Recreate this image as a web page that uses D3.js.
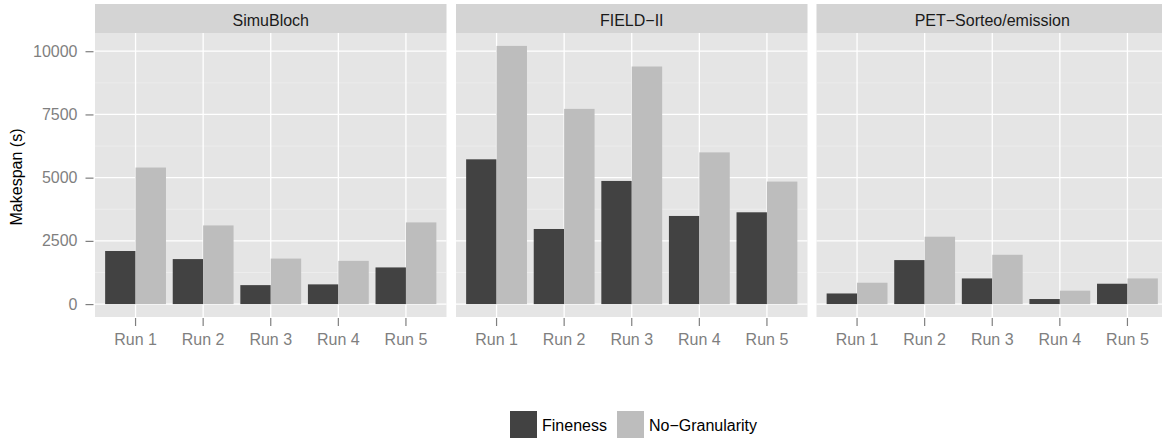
<!DOCTYPE html>
<html>
<head>
<meta charset="utf-8">
<script src="https://cdn.jsdelivr.net/npm/d3@7"></script>
<style>
  body { margin: 0; background: #fff; }
  svg { display: block; font-family: "Liberation Sans", Arial, Helvetica, sans-serif; }
</style>
</head>
<body>
<svg id="chart" width="1162" height="440"></svg>
<script>
// ---- data ----
const runs = ["Run 1", "Run 2", "Run 3", "Run 4", "Run 5"];
const panels = ["SimuBloch", "FIELD\u2212II", "PET\u2212Sorteo/emission"];
const series = ["Fineness", "No\u2212Granularity"];
const simuBlochFineness = [2100, 1780, 750, 780, 1450];
const simuBlochNoGranularity = [5400, 3110, 1800, 1710, 3230];
const fieldFineness = [5725, 2970, 4870, 3485, 3630];
const fieldNoGranularity = [10210, 7720, 9395, 6000, 4845];
const petFineness = [420, 1740, 1015, 200, 805];
const petNoGranularity = [845, 2665, 1950, 530, 1015];
const yTicks = [0, 2500, 5000, 7500, 10000];
const yMinorTicks = [1250, 3750, 6250, 8750];

const panelValues = [
  [simuBlochFineness, simuBlochNoGranularity],
  [fieldFineness, fieldNoGranularity],
  [petFineness, petNoGranularity]
];

// ---- layout ----
const svg = d3.select("#chart");
const colors = d3.scaleOrdinal().domain(series).range(["#424242", "#bdbdbd"]);
const panelW = 351.5, panelTop = 33, panelBottom = 317, stripTop = 4;
const panelLefts = [95, 456, 816.5];

const allVals = panelValues.flat(2);
const maxV = d3.max(allVals);
const y = d3.scaleLinear().domain([-0.05 * maxV, 1.05 * maxV]).range([panelBottom, panelTop]);

panels.forEach((name, pi) => {
  const left = panelLefts[pi];
  const x = d3.scaleBand().domain(runs).range([left, left + panelW]).paddingInner(0).paddingOuter(0.1);
  const bw = x.bandwidth();
  const xs = d3.scaleBand().domain(series).range([bw * 0.05, bw * 0.95]).padding(0);
  const g = svg.append("g");

  // strip
  g.append("rect").attr("x", left).attr("y", stripTop).attr("width", panelW).attr("height", panelTop - stripTop)
    .attr("fill", "#d4d4d4");
  g.append("text").attr("x", left + panelW / 2).attr("y", 26).attr("text-anchor", "middle")
    .attr("font-size", 16).attr("fill", "#1a1a1a").text(name);

  // panel background
  g.append("rect").attr("x", left).attr("y", panelTop).attr("width", panelW).attr("height", panelBottom - panelTop)
    .attr("fill", "#e5e5e5");

  // minor grid
  g.selectAll(".minor").data(yMinorTicks).join("line")
    .attr("x1", left).attr("x2", left + panelW)
    .attr("y1", d => y(d)).attr("y2", d => y(d))
    .attr("stroke", "#f2f2f2").attr("stroke-width", 0.6);
  // major grid
  g.selectAll(".major").data(yTicks).join("line")
    .attr("x1", left).attr("x2", left + panelW)
    .attr("y1", d => y(d)).attr("y2", d => y(d))
    .attr("stroke", "#ffffff").attr("stroke-width", 1.3);
  g.selectAll(".vmajor").data(runs).join("line")
    .attr("x1", d => x(d) + bw / 2).attr("x2", d => x(d) + bw / 2)
    .attr("y1", panelTop).attr("y2", panelBottom)
    .attr("stroke", "#ffffff").attr("stroke-width", 1.3);

  // bars
  series.forEach((s, si) => {
    const vals = panelValues[pi][si];
    g.selectAll(".bar" + si).data(runs).join("rect")
      .attr("x", (d) => x(d) + xs(s))
      .attr("width", xs.bandwidth())
      .attr("y", (d, i) => y(vals[i]))
      .attr("height", (d, i) => y(0) - y(vals[i]))
      .attr("fill", colors(s));
  });

  // x axis
  const xAxis = d3.axisBottom(x).tickSize(8).tickPadding(8);
  const ax = svg.append("g").attr("transform", `translate(0,${panelBottom + 1})`).call(xAxis);
  ax.select(".domain").remove();
  ax.selectAll(".tick line").attr("stroke", "#7f7f7f").attr("stroke-width", 1.2);
  ax.selectAll(".tick text").attr("font-size", 16).attr("fill", "#7f7f7f")
    .attr("font-family", "Liberation Sans, Arial, sans-serif");
});

// y axis
const yAxis = d3.axisLeft(y).tickValues(yTicks).tickFormat(d3.format("d")).tickSize(8).tickPadding(8);
const ay = svg.append("g").attr("transform", `translate(93.5,0)`).call(yAxis);
ay.select(".domain").remove();
ay.selectAll(".tick line").attr("stroke", "#7f7f7f").attr("stroke-width", 1.2);
ay.selectAll(".tick text").attr("font-size", 16).attr("fill", "#7f7f7f")
  .attr("font-family", "Liberation Sans, Arial, sans-serif");

svg.append("text").attr("transform", "translate(22,177) rotate(-90)")
  .attr("text-anchor", "middle").attr("font-size", 16).attr("fill", "#000").text("Makespan (s)");

// legend
const legendKeyX = [510, 617];
const legend = svg.append("g");
series.forEach((s, i) => {
  legend.append("rect").attr("x", legendKeyX[i]).attr("y", 411).attr("width", 27).attr("height", 27)
    .attr("fill", colors(s));
  legend.append("text").attr("x", legendKeyX[i] + 32).attr("y", 431).attr("font-size", 16)
    .attr("fill", "#000").text(s);
});
</script>
</body>
</html>
